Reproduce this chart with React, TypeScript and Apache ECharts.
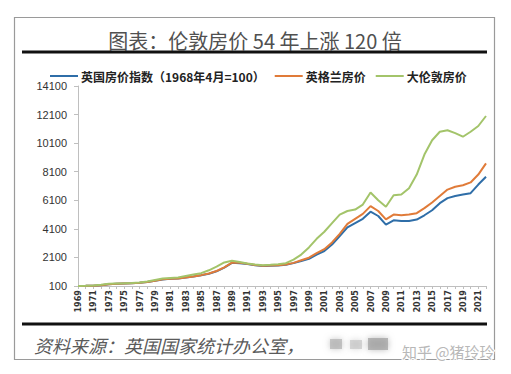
import React, { useEffect, useRef } from "react";
import * as echarts from "echarts";

const years: string[] = [];
for (let y = 1969; y <= 2022; y++) years.push(String(y));

const ukIndex = [
  100, 110, 125, 160, 220, 250, 270, 290, 320, 380,
  470, 560, 600, 620, 690, 760, 850, 960, 1130, 1380,
  1720, 1700, 1640, 1560, 1500, 1520, 1530, 1580, 1700, 1850,
  2000, 2300, 2550, 3000, 3600, 4200, 4500, 4800, 5300, 5000,
  4400, 4700, 4650, 4650, 4750, 5050, 5400, 5900, 6250, 6400,
  6500, 6600, 7200, 7750,
];

const england = [
  100, 110, 125, 160, 222, 252, 272, 292, 322, 385,
  475, 565, 605, 625, 695, 765, 860, 970, 1150, 1400,
  1740, 1720, 1650, 1570, 1510, 1530, 1545, 1600, 1720, 1900,
  2080, 2400, 2680, 3150, 3750, 4450, 4800, 5150, 5690, 5350,
  4760, 5100, 5050, 5100, 5200, 5550, 5950, 6400, 6850, 7050,
  7150, 7350, 7900, 8680,
];

const london = [
  100, 115, 140, 190, 260, 280, 290, 310, 340, 420,
  520, 620, 660, 700, 800, 900, 1000, 1200, 1450, 1750,
  1870, 1780, 1680, 1600, 1550, 1580, 1620, 1700, 1950, 2300,
  2800, 3400, 3900, 4500, 5100, 5350, 5450, 5800, 6650, 6100,
  5650, 6450, 6500, 6950, 7900, 9300, 10300, 10900, 11000, 10800,
  10550, 10900, 11300, 12000,
];

const seriesNames = ["英国房价指数（1968年4月=100）", "英格兰房价", "大伦敦房价"];
const seriesColors = ["#2f6ea8", "#e07b39", "#a3c46a"];

const titleText = "图表：伦敦房价 54 年上涨 120 倍";
const sourceText = "资料来源：英国国家统计办公室，";
const watermarkText = "知乎 @猪玲玲";

export default function App() {
  const ref = useRef<HTMLDivElement>(null);
  useEffect(() => {
    if (!ref.current) return;
    const chart = echarts.init(ref.current, undefined, { renderer: "svg" });
    const dataSets = [ukIndex, england, london];
    chart.setOption({
      animation: false,
      backgroundColor: "#ffffff",
      grid: { left: 78, right: 25, top: 86, bottom: 88, containLabel: false },
      legend: {
        left: 45,
        top: 65,
        icon: "rect",
        itemWidth: 28,
        itemHeight: 2,
        itemGap: 10,
        data: seriesNames,
        textStyle: {
          fontFamily: "Noto Sans CJK SC",
          fontWeight: "bold",
          fontSize: 12,
          color: "#222",
          padding: [0, 0, 0, -2],
        },
      },
      xAxis: {
        type: "category",
        data: years,
        boundaryGap: false,
        axisLine: { lineStyle: { color: "#bfbfbf", width: 1 } },
        axisTick: { show: true, interval: 0, length: 3, lineStyle: { color: "#bfbfbf" } },
        axisLabel: {
          interval: 1,
          rotate: 90,
          margin: 4,
          fontSize: 9,
          fontWeight: "bold",
          fontFamily: "DejaVu Sans Condensed, Liberation Sans",
          color: "#333",
        },
        splitLine: { show: false },
      },
      yAxis: {
        type: "value",
        min: 100,
        max: 14100,
        interval: 2000,
        axisLine: { show: true, lineStyle: { color: "#bfbfbf", width: 1 } },
        axisTick: { show: true, length: 4, lineStyle: { color: "#bfbfbf" } },
        axisLabel: {
          margin: 11,
          fontSize: 11,
          fontFamily: "Liberation Sans, Arial",
          color: "#333",
          formatter: (v: number) => String(v),
        },
        splitLine: { show: false },
      },
      series: seriesNames.map((name, i) => ({
        name,
        type: "line",
        data: dataSets[i],
        symbol: "none",
        smooth: false,
        z: i === 2 ? 3 : 2 + i * 0.1,
        lineStyle: { color: seriesColors[i], width: 2 },
        itemStyle: { color: seriesColors[i] },
      })),
      graphic: [
        {
          type: "rect",
          shape: { x: 14.5, y: 17.5, width: 480, height: 342 },
          style: { fill: "none", stroke: "#9a9a9a", lineWidth: 1.2 },
          silent: true,
        },
        {
          type: "text",
          x: 255,
          y: 40,
          style: {
            text: titleText,
            fontSize: 20,
            fontFamily: "Noto Sans CJK SC",
            fontWeight: "normal",
            fill: "#505050",
            align: "center",
            verticalAlign: "middle",
          },
        },
        {
          type: "rect",
          shape: { x: 22, y: 50.5, width: 465, height: 3 },
          style: { fill: "#111" },
        },
        {
          type: "rect",
          shape: { x: 22, y: 322.5, width: 465, height: 3 },
          style: { fill: "#111" },
        },
        {
          type: "text",
          x: 34,
          y: 345,
          style: {
            text: sourceText,
            fontSize: 18,
            fontStyle: "italic",
            fontFamily: "Noto Sans CJK SC",
            fill: "#5a5a5a",
            align: "left",
            verticalAlign: "middle",
          },
        },
        {
          type: "rect",
          shape: { x: 330, y: 339, width: 12, height: 10 },
          style: { fill: "#b0b0b0", opacity: 0.7, shadowBlur: 6, shadowColor: "#b0b0b0" },
        },
        {
          type: "rect",
          shape: { x: 350, y: 340, width: 12, height: 9 },
          style: { fill: "#c0c0c0", opacity: 0.6, shadowBlur: 6, shadowColor: "#c0c0c0" },
        },
        {
          type: "rect",
          shape: { x: 368, y: 338, width: 20, height: 12 },
          style: { fill: "#a0a0a0", opacity: 0.7, shadowBlur: 6, shadowColor: "#a0a0a0" },
        },
        {
          type: "text",
          x: 402,
          y: 351,
          style: {
            text: watermarkText,
            fontSize: 15,
            fontFamily: "Noto Sans CJK SC",
            fill: "#b8b8b8",
            stroke: "#ffffff",
            lineWidth: 2,
            align: "left",
            verticalAlign: "middle",
          },
        },
      ],
    });
    return () => chart.dispose();
  }, []);
  return <div ref={ref} style={{ width: 511, height: 374, position: "absolute", left: 0, top: 0 }} />;
}
